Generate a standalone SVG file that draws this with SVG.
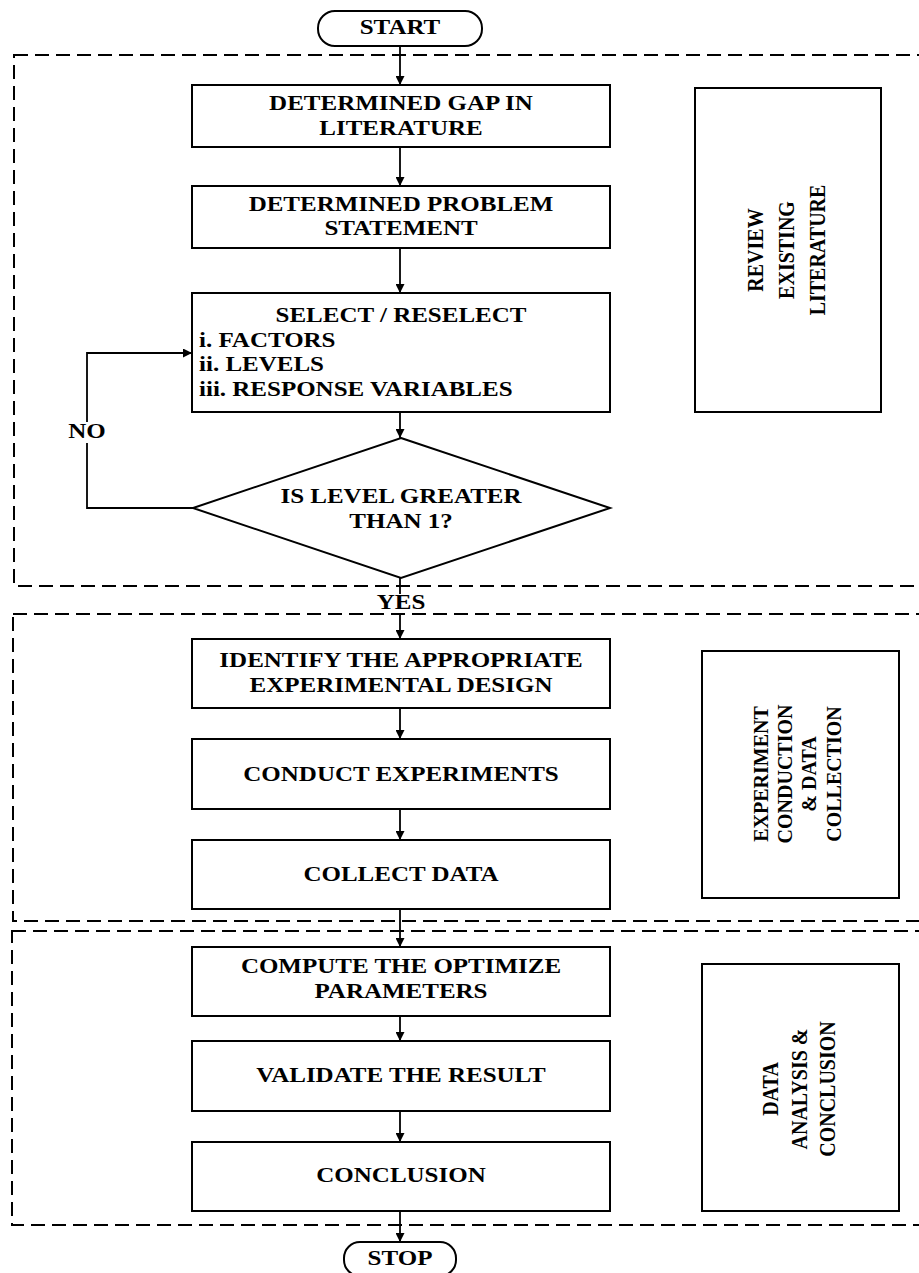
<svg xmlns="http://www.w3.org/2000/svg" width="919" height="1273" viewBox="0 0 919 1273">
<style>
.bg{fill:#fff}
.box{fill:#fff;stroke:#000;stroke-width:2}
.dash{fill:none;stroke:#000;stroke-width:2;stroke-dasharray:14 7}
.ln{fill:none;stroke:#000;stroke-width:1.8}
.t{font-family:"Liberation Serif","Times New Roman",serif;font-weight:bold;font-size:20px;fill:#000}
.m{text-anchor:middle}
</style>
<defs>
<marker id="ah" viewBox="0 0 10 10" refX="10" refY="5" markerWidth="9" markerHeight="9" markerUnits="userSpaceOnUse" orient="auto">
<path d="M0,0 L10,5 L0,10 z" fill="#000"/>
</marker>
</defs>
<rect class="bg" x="0" y="0" width="919" height="1273"/>

<g id="groups">
<rect class="dash" x="14" y="55" width="930" height="531"/>
<rect class="dash" x="13" y="614" width="930" height="307"/>
<rect class="dash" x="12" y="931" width="930" height="294"/>
</g>

<g id="connectors">
<line class="ln" x1="400" y1="46" x2="400" y2="85" marker-end="url(#ah)"/>
<line class="ln" x1="400" y1="147" x2="400" y2="186" marker-end="url(#ah)"/>
<line class="ln" x1="400" y1="248" x2="400" y2="293" marker-end="url(#ah)"/>
<line class="ln" x1="400" y1="412" x2="400" y2="438" marker-end="url(#ah)"/>
<line class="ln" x1="400" y1="578" x2="400" y2="594"/>
<line class="ln" x1="400" y1="614" x2="400" y2="639" marker-end="url(#ah)"/>
<polyline class="ln" points="193,508 87,508 87,443"/>
<polyline class="ln" points="87,422 87,353 192,353" marker-end="url(#ah)"/>
<line class="ln" x1="400" y1="708" x2="400" y2="739" marker-end="url(#ah)"/>
<line class="ln" x1="400" y1="809" x2="400" y2="840" marker-end="url(#ah)"/>
<line class="ln" x1="400" y1="909" x2="400" y2="947" marker-end="url(#ah)"/>
<line class="ln" x1="400" y1="1016" x2="400" y2="1041" marker-end="url(#ah)"/>
<line class="ln" x1="400" y1="1111" x2="400" y2="1142" marker-end="url(#ah)"/>
<line class="ln" x1="400" y1="1211" x2="400" y2="1242" marker-end="url(#ah)"/>
<text class="t m" transform="translate(87,438) scale(1.25,1)">NO</text>
<text class="t m" transform="translate(401,609) scale(1.25,1)">YES</text>
</g>

<g id="start">
<rect class="box" x="318" y="11" width="164" height="35" rx="17" ry="17"/>
<text class="t m" transform="translate(400,34) scale(1.25,1)">START</text>
</g>

<g id="gap">
<rect class="box" x="192" y="85" width="418" height="62"/>
<text class="t m" transform="translate(401,110) scale(1.25,1)">DETERMINED GAP IN</text>
<text class="t m" transform="translate(401,135) scale(1.25,1)">LITERATURE</text>
</g>

<g id="problem">
<rect class="box" x="192" y="186" width="418" height="62"/>
<text class="t m" transform="translate(401,211) scale(1.25,1)">DETERMINED PROBLEM</text>
<text class="t m" transform="translate(401,235) scale(1.25,1)">STATEMENT</text>
</g>

<g id="select">
<rect class="box" x="192" y="293" width="418" height="119"/>
<text class="t m" transform="translate(401,322) scale(1.25,1)">SELECT / RESELECT</text>
<text class="t" transform="translate(199,347) scale(1.25,1)">i. FACTORS</text>
<text class="t" transform="translate(199,371) scale(1.25,1)">ii. LEVELS</text>
<text class="t" transform="translate(199,396) scale(1.25,1)">iii. RESPONSE VARIABLES</text>
</g>

<g id="decision">
<polygon class="box" points="401,438 610,508 401,578 193,508"/>
<text class="t m" transform="translate(401,503) scale(1.25,1)">IS LEVEL GREATER</text>
<text class="t m" transform="translate(401,528) scale(1.25,1)">THAN 1?</text>
</g>

<g id="review">
<rect class="box" x="695" y="88" width="186" height="324"/>
<text class="t m" transform="translate(763,250) scale(1.12,1) rotate(-90)">REVIEW</text>
<text class="t m" transform="translate(794,250) scale(1.12,1) rotate(-90)">EXISTING</text>
<text class="t m" transform="translate(825,250) scale(1.12,1) rotate(-90)">LITERATURE</text>
</g>

<g id="identify">
<rect class="box" x="192" y="639" width="418" height="69"/>
<text class="t m" transform="translate(401,667) scale(1.25,1)">IDENTIFY THE APPROPRIATE</text>
<text class="t m" transform="translate(401,692) scale(1.25,1)">EXPERIMENTAL DESIGN</text>
</g>

<g id="conduct">
<rect class="box" x="192" y="739" width="418" height="70"/>
<text class="t m" transform="translate(401,781) scale(1.25,1)">CONDUCT EXPERIMENTS</text>
</g>

<g id="collect">
<rect class="box" x="192" y="840" width="418" height="69"/>
<text class="t m" transform="translate(401,881) scale(1.25,1)">COLLECT DATA</text>
</g>

<g id="experiment">
<rect class="box" x="702" y="651" width="197" height="247"/>
<text class="t m" transform="translate(768,774) scale(1.05,1) rotate(-90)">EXPERIMENT</text>
<text class="t m" transform="translate(792,774) scale(1.05,1) rotate(-90)">CONDUCTION</text>
<text class="t m" transform="translate(816,774) scale(1.05,1) rotate(-90)">&amp; DATA</text>
<text class="t m" transform="translate(841,774) scale(1.05,1) rotate(-90)">COLLECTION</text>
</g>

<g id="compute">
<rect class="box" x="192" y="947" width="418" height="69"/>
<text class="t m" transform="translate(401,973) scale(1.25,1)">COMPUTE THE OPTIMIZE</text>
<text class="t m" transform="translate(401,998) scale(1.25,1)">PARAMETERS</text>
</g>

<g id="validate">
<rect class="box" x="192" y="1041" width="418" height="70"/>
<text class="t m" transform="translate(401,1082) scale(1.25,1)">VALIDATE THE RESULT</text>
</g>

<g id="conclusion">
<rect class="box" x="192" y="1142" width="418" height="69"/>
<text class="t m" transform="translate(401,1182) scale(1.25,1)">CONCLUSION</text>
</g>

<g id="analysis">
<rect class="box" x="702" y="964" width="197" height="247"/>
<text class="t m" transform="translate(778,1089) scale(1.12,1) rotate(-90)">DATA</text>
<text class="t m" transform="translate(807,1089) scale(1.12,1) rotate(-90)">ANALYSIS &amp;</text>
<text class="t m" transform="translate(835,1089) scale(1.12,1) rotate(-90)">CONCLUSION</text>
</g>

<g id="stop">
<rect class="box" x="344" y="1242" width="112" height="34" rx="16" ry="16"/>
<text class="t m" transform="translate(400,1265) scale(1.25,1)">STOP</text>
</g>
</svg>
